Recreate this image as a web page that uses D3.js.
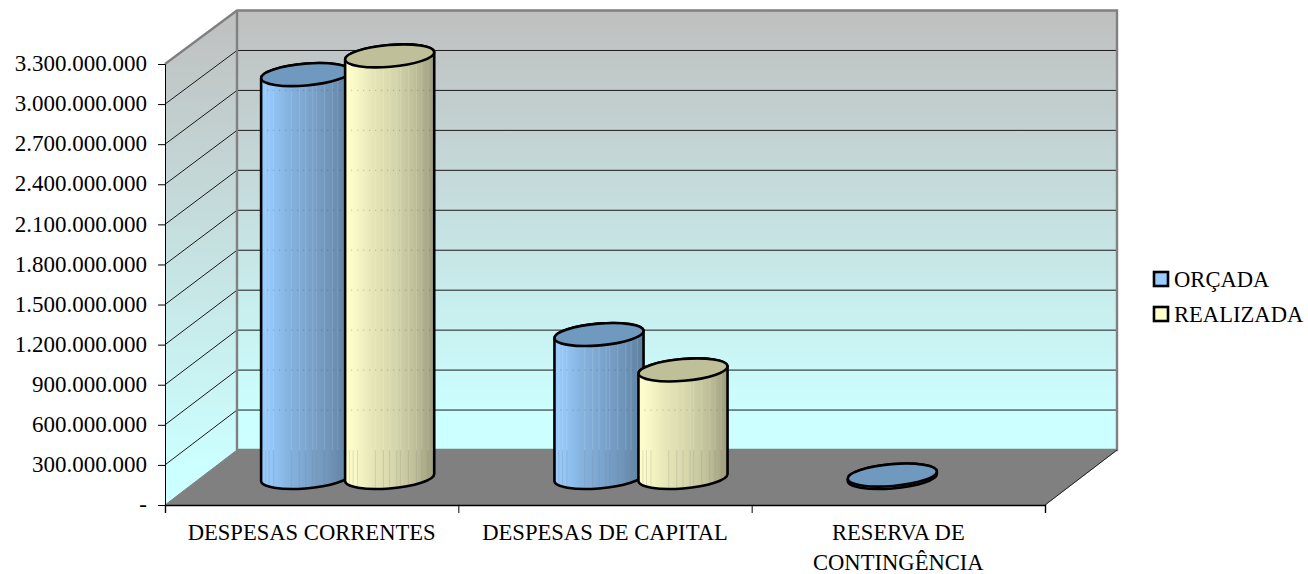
<!DOCTYPE html>
<html>
<head>
<meta charset="utf-8">
<script src="https://cdn.jsdelivr.net/npm/d3@7"></script>
<style>
  html, body { margin: 0; padding: 0; background: #fff; overflow: hidden; }
  text { font-family: "Liberation Serif", "Times New Roman", serif; fill: #000; }
</style>
</head>
<body>
<svg id="chart" width="1308" height="574"></svg>
<script>
const categories = [["DESPESAS CORRENTES"], ["DESPESAS DE CAPITAL"], ["RESERVA DE", "CONTINGÊNCIA"]];
const seriesNames = ["ORÇADA", "REALIZADA"];
const orcada = [3015000000, 1070000000, 18000000];
const realizada = [3155000000, 805000000, 0];
const tickValues = [0, 300000000, 600000000, 900000000, 1200000000, 1500000000, 1800000000, 2100000000, 2400000000, 2700000000, 3000000000, 3300000000];

const fontSize = 22.6;
const depthX = 72; // front-to-back shift of the 3d box
const svg = d3.select("#chart");
const defs = svg.append("defs");

const x = d3.scaleBand().domain(d3.range(categories.length)).range([165, 1045]);
const xInner = d3.scaleBand().domain([0, 1]).range([-84, 84]);
const y = d3.scaleLinear().domain([0, 3300000000]).range([505, 64]);
// back wall has a slightly different scale
const yBack = d3.scaleLinear().domain([0, 3300000000]).range([450, 10.5]);

// body gradients, banded a little like the original export
function bodyGradient(id, stops) {
  const g = defs.append("linearGradient").attr("id", id);
  stops.forEach((s) => g.append("stop").attr("offset", s[0]).attr("stop-color", s[1]));
}
bodyGradient("blueBody", [[0, "#99ccff"], [0.12, "#93c5f5"], [0.3, "#86b4e0"], [0.55, "#7aa3cc"], [0.8, "#6d92b6"], [1, "#5f7f9f"]]);
bodyGradient("yellowBody", [[0, "#ffffcc"], [0.12, "#f8f8c6"], [0.3, "#e6e6b8"], [0.55, "#d6d6ab"], [0.8, "#bdbd98"], [1, "#9c9c7c"]]);
const wall = defs.append("linearGradient").attr("id", "wall").attr("x2", 0).attr("y2", 1);
wall.append("stop").attr("offset", 0).attr("stop-color", "#bfbfbf");
wall.append("stop").attr("offset", 0.92).attr("stop-color", "#ccffff");

const pts = (list) => list.map((p) => p.join(",")).join(" ");
const x0 = x.range()[0], x1 = x.range()[1];
const maxV = y.domain()[1];
const bx0 = x0 + depthX, bx1 = x1 + depthX;

// walls + floor
svg.append("polygon").attr("fill", "url(#wall)")
  .attr("points", pts([[bx0, yBack(maxV)], [bx1, yBack(maxV)], [bx1, yBack(0)], [bx0, yBack(0)]]));
svg.append("polygon").attr("fill", "url(#wall)")
  .attr("points", pts([[x0, y(maxV)], [bx0, yBack(maxV)], [bx0, yBack(0)], [x0, y(0)]]));
svg.append("polygon").attr("fill", "#808080").attr("stroke", "#808080")
  .attr("points", pts([[x0, y(0)], [x1, y(0)], [bx1, yBack(0)], [bx0, yBack(0)]]));

// gridlines over both walls
const gridTicks = tickValues.slice(1, -1);
svg.append("g").selectAll("polyline").data(gridTicks).join("polyline")
  .attr("fill", "none").attr("stroke", "#1a1a1a").attr("stroke-width", 1)
  .attr("points", (d) => pts([[x0, y(d)], [bx0, yBack(d)], [bx1, yBack(d)]]));

// gray box frame
svg.append("polyline").attr("fill", "none").attr("stroke", "#808080").attr("stroke-width", 2.4)
  .attr("points", pts([[x0, y(maxV)], [bx0, yBack(maxV)], [bx1, yBack(maxV)], [bx1, yBack(0)], [bx0, yBack(0)]]));
svg.append("line").attr("stroke", "#808080").attr("stroke-width", 2.4)
  .attr("x1", bx0).attr("x2", bx0).attr("y1", yBack(maxV)).attr("y2", yBack(0));
svg.append("line").attr("stroke", "#222").attr("stroke-width", 1)
  .attr("x1", x1).attr("y1", y(0)).attr("x2", bx1).attr("y2", yBack(0));

// axes
const ptBr = d3.formatLocale({ decimal: ",", thousands: ".", grouping: [3], currency: ["", ""] });
const yAxis = d3.axisLeft(y).tickValues(tickValues).tickSize(7).tickPadding(11)
  .tickFormat((d) => (d === 0 ? "-" : ptBr.format(",d")(d)));
const gy = svg.append("g").attr("transform", `translate(${x0},0)`).call(yAxis);
gy.selectAll("text").style("font-size", "23px").attr("font-family", null).attr("dy", "0.29em");
gy.selectAll("line, path").attr("stroke", "#000");

const xAxis = d3.axisBottom(d3.scaleLinear().domain([0, categories.length]).range([x0, x1]))
  .ticks(categories.length).tickSize(8).tickFormat("");
const gx = svg.append("g").attr("transform", `translate(0,${y(0)})`).call(xAxis);
gx.selectAll("line").attr("stroke", "#000");
gx.select("path").attr("stroke", "#000").attr("stroke-width", 1.4);

svg.append("g").selectAll("text").data(categories).join("text")
  .attr("text-anchor", "middle").style("font-size", fontSize + "px")
  .each(function (lines, i) {
    d3.select(this).selectAll("tspan").data(lines).join("tspan")
      .attr("x", x(i) + x.bandwidth() / 2)
      .attr("y", (l, k) => 540 + k * 30)
      .text((l) => l);
  });

// cylinders
const rotDeg = -4.85, rx = 44.7, ry = 10.9;
const rot = rotDeg * Math.PI / 180;
const halfW = Math.sqrt(rx * rx * Math.cos(rot) ** 2 + ry * ry * Math.sin(rot) ** 2);
const offY = ((rx * rx - ry * ry) * Math.sin(rot) * Math.cos(rot)) / halfW; // y shift of the right-most point

const stripes = [0.05, 0.09, 0.14, 0.34, 0.43, 0.5, 0.58, 0.62, 0.71, 0.8, 0.86, 0.93];

function cylinder(parent, cx, value, idx) {
  const h = y(0) - y(value);
  const cyBot = (y(0) + yBack(0)) / 2;
  const cyTop = cyBot - h;
  const bodyId = "clip" + idx + "_" + Math.round(cx);
  const body = `M${cx - halfW},${cyTop - offY}L${cx - halfW},${cyBot - offY}` +
    `A${rx},${ry} ${rotDeg} 0 0 ${cx + halfW},${cyBot + offY}L${cx + halfW},${cyTop + offY}` +
    `A${rx},${ry} ${rotDeg} 0 0 ${cx - halfW},${cyTop - offY}Z`;
  const g = parent.append("g");
  defs.append("clipPath").attr("id", bodyId).append("path").attr("d", body);
  g.append("path").attr("d", body).attr("fill", idx === 0 ? "url(#blueBody)" : "url(#yellowBody)");

  const over = g.append("g").attr("clip-path", `url(#${bodyId})`);
  // faint light bands; the part in front of the floor gets gray ones
  over.selectAll("line.band").data(stripes).join("line").attr("class", "band")
    .attr("x1", (f) => cx - halfW + f * 2 * halfW).attr("x2", (f) => cx - halfW + f * 2 * halfW)
    .attr("y1", cyTop - 20).attr("y2", yBack(0))
    .attr("stroke", "#fff").attr("stroke-opacity", 0.14);
  over.selectAll("line.low").data(stripes).join("line").attr("class", "low")
    .attr("x1", (f) => cx - halfW + f * 2 * halfW).attr("x2", (f) => cx - halfW + f * 2 * halfW)
    .attr("y1", yBack(0)).attr("y2", cyBot + 20)
    .attr("stroke", "#808080").attr("stroke-opacity", 0.22);
  // gridlines peeking through as dots
  over.selectAll("line.dots").data(gridTicks).join("line").attr("class", "dots")
    .attr("x1", cx - halfW).attr("x2", cx + halfW)
    .attr("y1", (d) => yBack(d)).attr("y2", (d) => yBack(d))
    .attr("stroke", "#333").attr("stroke-opacity", 0.3).attr("stroke-dasharray", "1,5");

  g.append("path").attr("d", body).attr("fill", "none").attr("stroke", "#000").attr("stroke-width", 2.6);
  g.append("ellipse").attr("rx", rx).attr("ry", ry)
    .attr("transform", `translate(${cx},${cyTop}) rotate(${rotDeg})`)
    .attr("fill", idx === 0 ? "#7099c0" : "#bfbf99")
    .attr("stroke", "#000").attr("stroke-width", 2.6);
}

const bars = svg.append("g");
categories.forEach((c, i) => {
  const mid = x(i) + x.bandwidth() / 2 + depthX / 2;
  [orcada, realizada].forEach((s, k) => {
    if (s[i] > 0) cylinder(bars, mid + xInner(k) + xInner.bandwidth() / 2, s[i], k);
  });
});

// legend
const legendY = d3.scalePoint().domain(seriesNames).range([279, 314]);
const legend = svg.append("g").selectAll("g").data(seriesNames).join("g")
  .attr("transform", (d) => `translate(1154,${legendY(d)})`);
legend.append("rect").attr("x", 0).attr("y", -7).attr("width", 14).attr("height", 14)
  .attr("fill", (d, i) => (i === 0 ? "#99ccff" : "#ffffcc"))
  .attr("stroke", "#000").attr("stroke-width", 2.6);
legend.append("text").attr("x", 20).attr("y", 8).style("font-size", fontSize + "px").text((d) => d);
</script>
</body>
</html>
